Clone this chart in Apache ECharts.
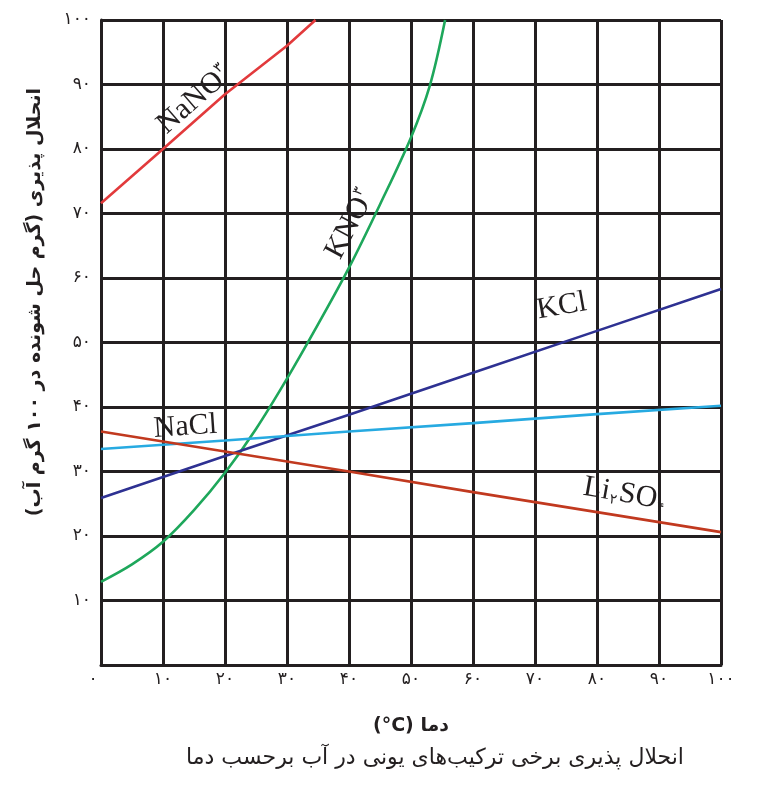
<!DOCTYPE html>
<html>
<head>
<meta charset="utf-8">
<script src="https://cdn.jsdelivr.net/npm/echarts@6/dist/echarts.min.js"></script>
<style>
html,body{margin:0;padding:0;background:#fff;}
#chart{width:767px;height:798px;}
</style>
</head>
<body>
<div id="chart"></div>
<script>
// ---- data (temperature °C, solubility g / 100 g water) ----
const xTickValues = [0, 10, 20, 30, 40, 50, 60, 70, 80, 90, 100];
const xTickLabels = ['۰', '۱۰', '۲۰', '۳۰', '۴۰', '۵۰', '۶۰', '۷۰', '۸۰', '۹۰', '۱۰۰'];
const yTickValues = [0, 10, 20, 30, 40, 50, 60, 70, 80, 90, 100];
const yTickLabels = ['', '۱۰', '۲۰', '۳۰', '۴۰', '۵۰', '۶۰', '۷۰', '۸۰', '۹۰', '۱۰۰'];

const nano3 = [[0, 71.6], [10, 80], [20, 88.5], [30, 96], [34.6, 100]];
const kno3 = [[0, 12.9], [5, 15.6], [10, 19.1], [15, 24], [20, 29.8], [25, 36.6], [30, 44.4], [35, 52.8], [40, 61.6], [45, 71.4], [50, 81.8], [53, 89.7], [55.5, 100]];
const kcl = [[0, 25.9], [20, 32.4], [40, 38.8], [60, 45.3], [80, 51.8], [100, 58.3]];
const nacl = [[0, 33.5], [20, 34.8], [40, 36.2], [60, 37.5], [80, 38.9], [100, 40.2]];
const li2so4 = [[0, 36.2], [20, 33.1], [40, 30], [60, 26.8], [80, 23.7], [100, 20.6]];

const seriesNames = ['NaNO3', 'KNO3', 'KCl', 'NaCl', 'Li2SO4'];
const seriesColors = ['#e23a3c', '#1ea75b', '#2e3192', '#27aae1', '#c1391f'];

const yTitle = 'انحلال پذیری (گرم حل شونده در ۱۰۰ گرم آب)\u200F';
const xTitle = '(°C) دما';
const caption = 'انحلال پذیری برخی ترکیب‌های یونی در آب برحسب دما';

// curve labels: anchor in data coords, rotation in degrees
const curveLabels = [
  { text: '{m|NaNO}{s|۳}', at: [15.0, 87.6], rot: 41 },
  { text: '{m|KNO}{s|۳}', at: [40.2, 68.3], rot: 62 },
  { text: '{m|KCl}', at: [74.3, 55.6], rot: 10 },
  { text: '{m|NaCl}', at: [13.6, 36.9], rot: 4 },
  { text: '{m|Li}{b|۲}{m|SO}{b|۴}', at: [84.5, 26.5], rot: -10 }
];

const ink = '#231f20';
const chart = echarts.init(document.getElementById('chart'), null, { renderer: 'canvas' });

const lineData = [nano3, kno3, kcl, nacl, li2so4];

const option = {
  animation: false,
  backgroundColor: '#ffffff',
  grid: { left: 101, right: 46, top: 20, bottom: 133, containLabel: false },
  xAxis: {
    type: 'value', min: 0, max: 100, interval: 10,
    name: xTitle, nameLocation: 'middle', nameGap: 52,
    nameTextStyle: { fontFamily: 'DejaVu Sans', fontSize: 19, fontWeight: 'bold', color: ink },
    axisLine: { show: true, lineStyle: { color: ink, width: 3 } },
    axisTick: { show: false },
    splitLine: { show: true, lineStyle: { color: ink, width: 3 } },
    axisLabel: {
      margin: 6, color: ink, fontFamily: 'DejaVu Sans', fontSize: 17,
      formatter: function (v) {
        const i = xTickValues.indexOf(v);
        if (i === 0) return '{z|' + xTickLabels[0] + '}';
        return i >= 0 ? xTickLabels[i] : '';
      },
      rich: { z: { fontFamily: 'DejaVu Sans', fontSize: 17, color: ink, padding: [0, 16, 0, 0] } }
    }
  },
  yAxis: {
    type: 'value', min: 0, max: 100, interval: 10,
    axisLine: { show: true, lineStyle: { color: ink, width: 3 } },
    axisTick: { show: false },
    splitLine: { show: true, lineStyle: { color: ink, width: 3 } },
    axisLabel: {
      margin: 10, color: ink, fontFamily: 'DejaVu Sans', fontSize: 17,
      formatter: function (v) {
        const i = yTickValues.indexOf(v);
        return i >= 0 ? yTickLabels[i] : '';
      }
    }
  },
  series: lineData.map(function (d, k) {
    return {
      name: seriesNames[k], type: 'line', data: d,
      smooth: k === 1 ? 0.35 : false,
      showSymbol: false, symbol: 'none', clip: true,
      lineStyle: { color: seriesColors[k], width: 2.6 },
      z: 5
    };
  }),
  graphic: [
    {
      type: 'text', x: 35, y: 302, rotation: Math.PI / 2, z: 10,
      style: { text: yTitle, align: 'center', verticalAlign: 'middle', fontFamily: 'DejaVu Sans', fontSize: 19, fontWeight: 'bold', fill: ink }
    },
    {
      type: 'text', x: 435, y: 758, z: 10,
      style: { text: caption, align: 'center', verticalAlign: 'middle', fontFamily: 'DejaVu Sans', fontSize: 22, fill: ink }
    }
  ]
};
chart.setOption(option);

// place curve labels using the chart's own scales
const labelGraphics = curveLabels.map(function (c) {
  const p = chart.convertToPixel({ gridIndex: 0 }, c.at);
  return {
    type: 'text', x: p[0], y: p[1], rotation: c.rot * Math.PI / 180, z: 20,
    style: {
      text: c.text, align: 'center', verticalAlign: 'middle', fill: ink,
      rich: {
        m: { fontFamily: 'Liberation Serif', fontSize: 30, fill: ink },
        s: { fontFamily: 'DejaVu Sans', fontSize: 14, fill: ink, verticalAlign: 'top', padding: [0, 0, 16, 1] },
        b: { fontFamily: 'DejaVu Sans', fontSize: 14, fill: ink, verticalAlign: 'bottom', padding: [14, 1, 0, 1] }
      }
    }
  };
});
chart.setOption({ graphic: option.graphic.concat(labelGraphics) });
</script>
</body>
</html>
